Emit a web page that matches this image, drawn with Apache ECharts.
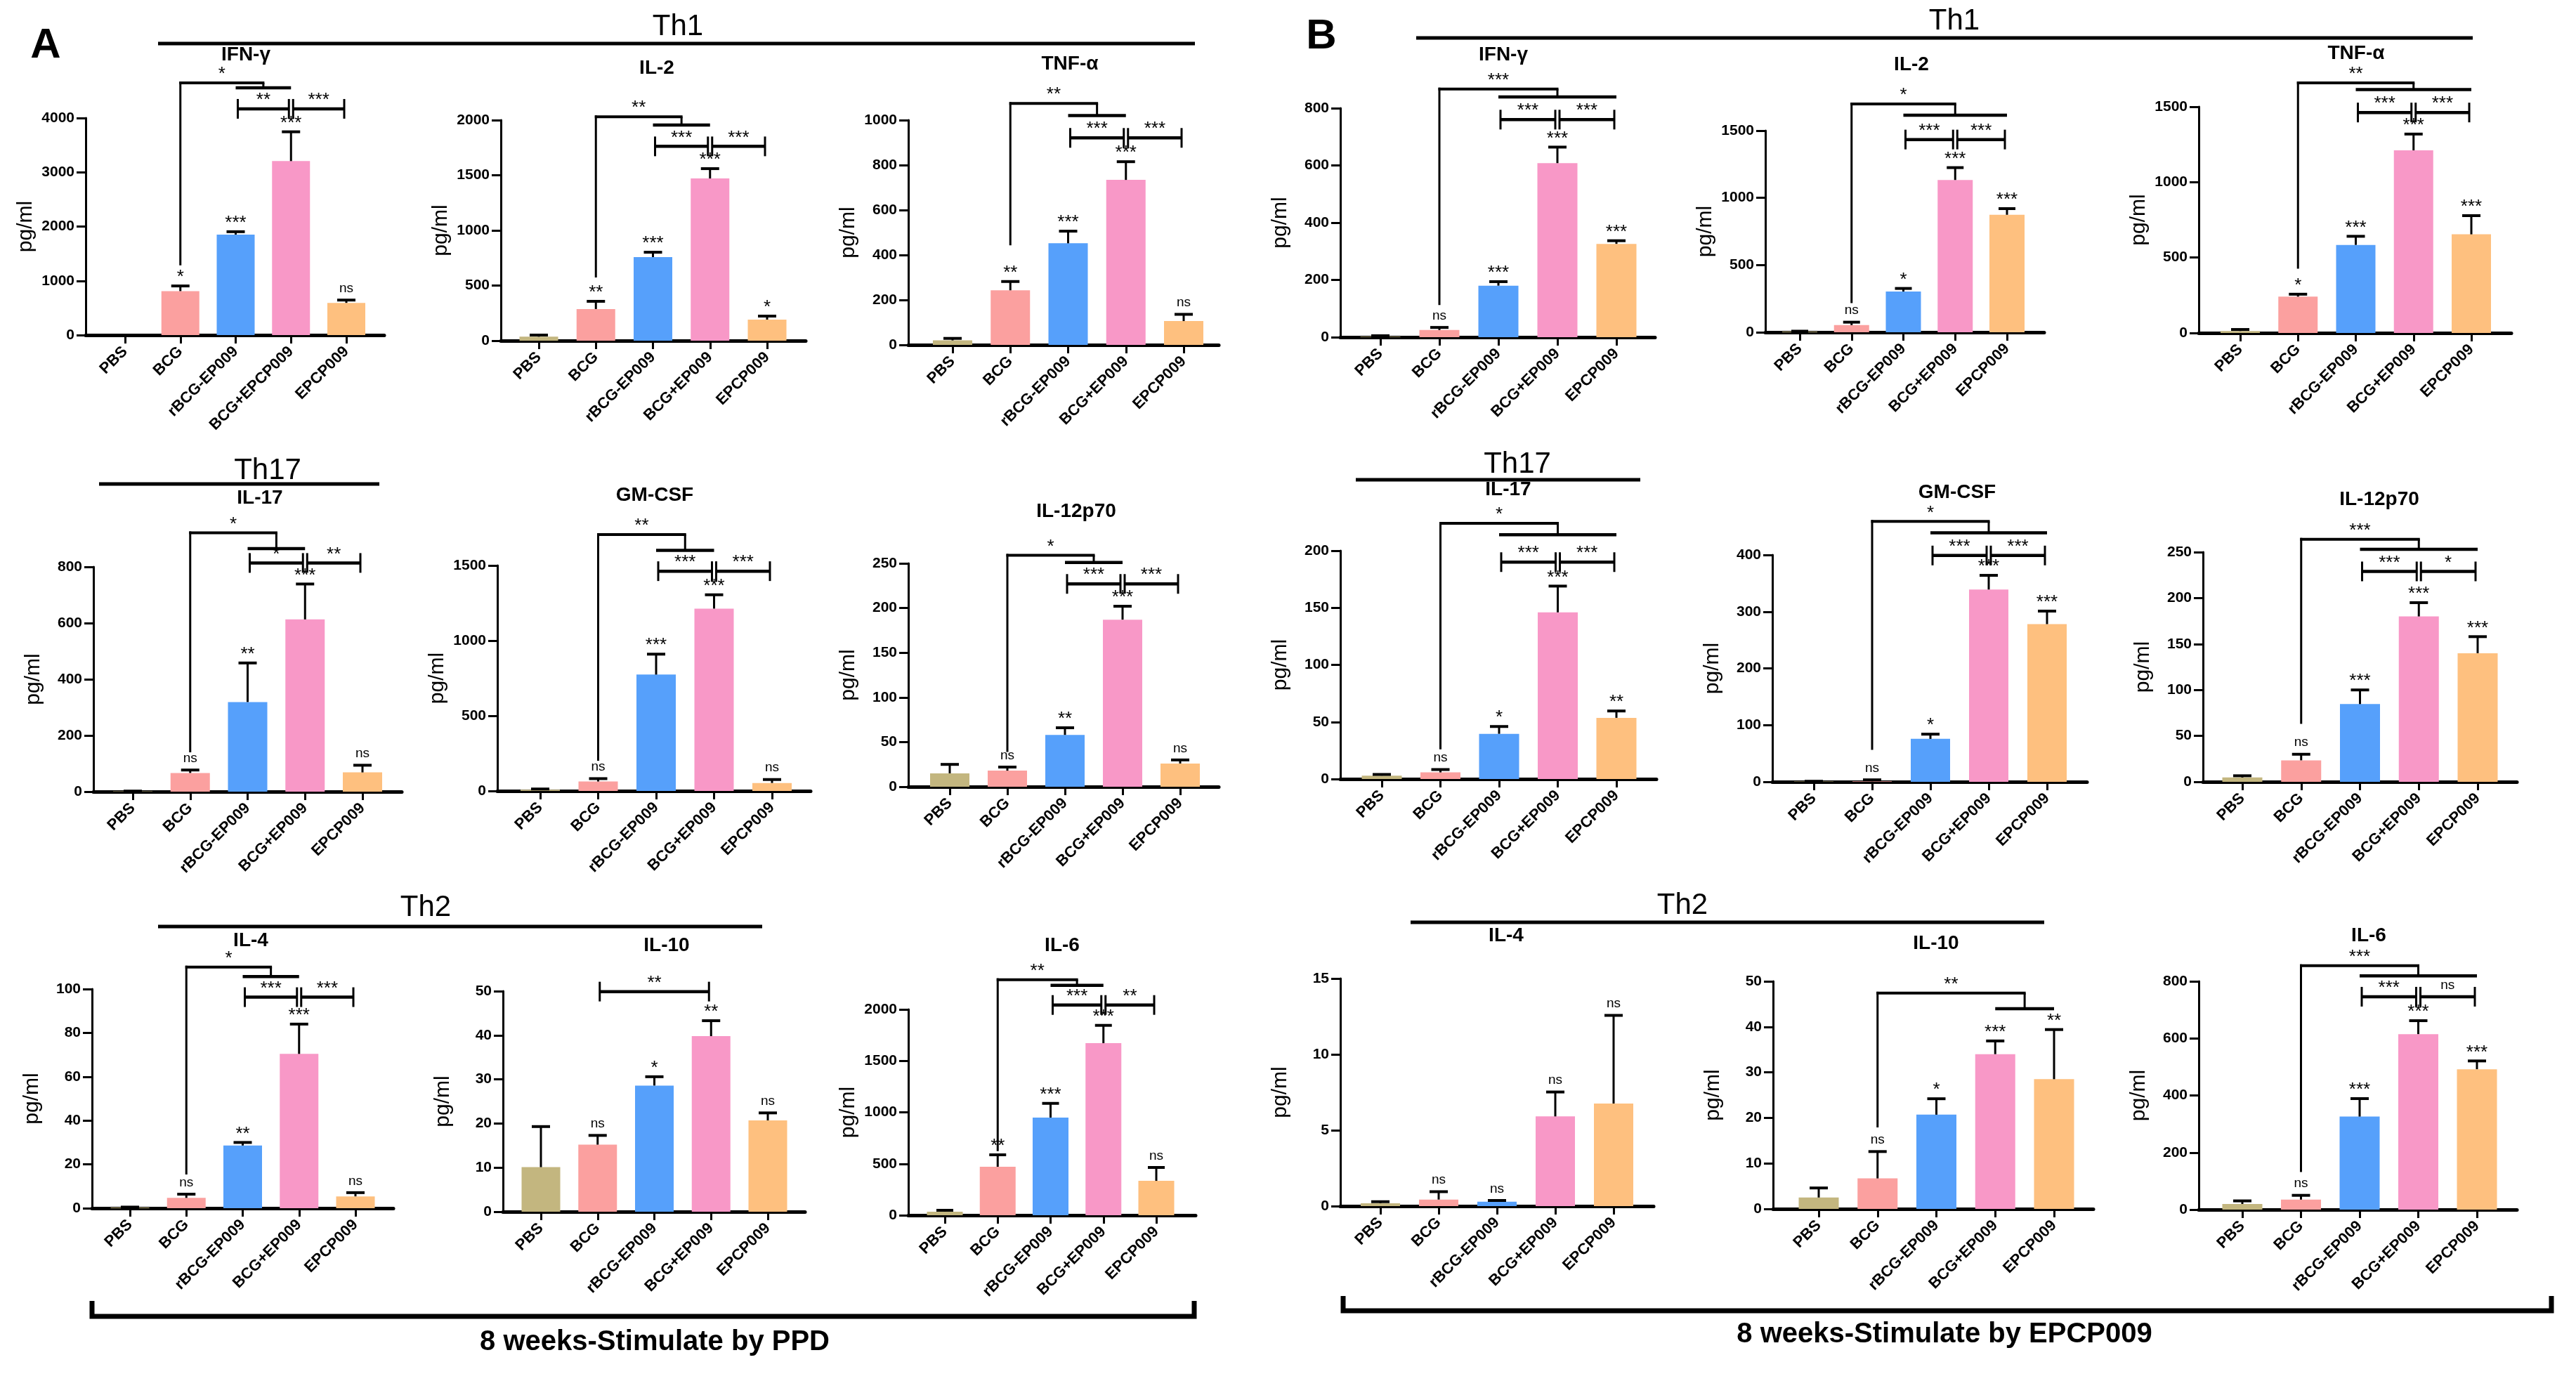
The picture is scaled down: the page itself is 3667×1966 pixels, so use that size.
<!DOCTYPE html>
<html>
<head>
<meta charset="utf-8">
<script src="https://cdn.jsdelivr.net/npm/echarts@6/dist/echarts.min.js"></script>
<style>
  html, body { margin: 0; padding: 0; background: #fff; }
  #main { width: 3667px; height: 1966px; }
</style>
</head>
<body>
<div id="main"></div>
<script>
const FONT = '"Liberation Sans", Arial, sans-serif';

// categories
const cats = ['PBS', 'BCG', 'rBCG-EP009', 'BCG+EP009', 'EPCP009'];
const catsIfnA = ['PBS', 'BCG', 'rBCG-EP009', 'BCG+EPCP009', 'EPCP009'];
const barColors = ['#C3B67F', '#FBA09F', '#56A0FB', '#F898C7', '#FEC07F'];

// ---- panel A : stimulated by PPD ----
const ifnA = [0, 810, 1852, 3206, 593];
const ifnAErr = [0, 905, 1905, 3746, 645];
const ifnASig = ['', '*', '***', '***', 'ns'];
const ifnABr = [['big', 1, 2, 3, 1286, 4646, 4556, '*'], ['pair', 2, 3, 4169, '**'], ['pair', 3, 4, 4169, '***']];

const il2A = [36, 287, 758, 1471, 191];
const il2AErr = [51, 357, 802, 1560, 223];
const il2ASig = ['', '**', '***', '***', '*'];
const il2ABr = [['big', 1, 2, 3, 573, 2030, 1955, '**'], ['pair', 2, 3, 1762, '***'], ['pair', 3, 4, 1762, '***']];

const tnfA = [20, 243, 452, 734, 106];
const tnfAErr = [29, 282, 506, 815, 136];
const tnfASig = ['', '**', '***', '***', 'ns'];
const tnfABr = [['big', 1, 2, 3, 443, 1074, 1020, '**'], ['pair', 2, 3, 921, '***'], ['pair', 3, 4, 921, '***']];

const il17A = [1, 66.5, 319, 613, 68.5];
const il17AErr = [2, 77, 458, 739, 94];
const il17ASig = ['', 'ns', '**', '***', 'ns'];
const il17ABr = [['big', 1, 2, 3, 140, 921, 865, '*'], ['pair', 2, 3, 814, '*'], ['pair', 3, 4, 814, '**']];

const gmA = [8, 63, 774, 1213, 53];
const gmAErr = [13, 82, 910, 1305, 76];
const gmASig = ['', 'ns', '***', '***', 'ns'];
const gmABr = [['big', 1, 2, 3, 201, 1706, 1601, '**'], ['pair', 2, 3, 1462, '***'], ['pair', 3, 4, 1462, '***']];

const il12A = [15, 18, 58, 187, 26];
const il12AErr = [25, 22, 66, 202, 30];
const il12ASig = ['', 'ns', '**', '***', 'ns'];
const il12ABr = [['big', 1, 2, 3, 39, 259, 251, '*'], ['pair', 2, 3, 227, '***'], ['pair', 3, 4, 227, '***']];

const il4A = [0.3, 4.7, 28.6, 70.4, 5.4];
const il4AErr = [0.5, 6.4, 30, 84, 7.1];
const il4ASig = ['', 'ns', '**', '***', 'ns'];
const il4ABr = [['big', 1, 2, 3, 15.4, 110, 105.7, '*'], ['pair', 2, 3, 96.3, '***'], ['pair', 3, 4, 96.3, '***']];

const il10A = [10.1, 15.2, 28.6, 39.8, 20.7];
const il10AErr = [19.3, 17.3, 30.6, 43.3, 22.4];
const il10ASig = ['', 'ns', '*', '**', 'ns'];
const il10ABr = [['pair', 1, 3, 49.9, '**']];

const il6A = [34, 471, 949, 1672, 334];
const il6AErr = [48, 587, 1087, 1845, 464];
const il6ASig = ['', '**', '***', '***', 'ns'];
const il6ABr = [['big', 1, 2, 3, 623, 2289, 2234, '**'], ['pair', 2, 3, 2043, '***'], ['pair', 3, 4, 2043, '**']];

// ---- panel B : stimulated by EPCP009 ----
const ifnB = [2, 25, 180, 608, 326];
const ifnBErr = [5, 34, 194, 664, 337];
const ifnBSig = ['', 'ns', '***', '***', '***'];
const ifnBBr = [['big', 1, 2, 4, 112, 867, 839, '***'], ['pair', 2, 3, 760, '***'], ['pair', 3, 4, 760, '***']];

const il2B = [5, 53, 303, 1133, 874];
const il2BErr = [8, 75, 326, 1225, 920];
const il2BSig = ['', 'ns', '*', '***', '***'];
const il2BBr = [['big', 1, 2, 4, 217, 1698, 1615, '*'], ['pair', 2, 3, 1434, '***'], ['pair', 3, 4, 1434, '***']];

const tnfB = [13, 241, 584, 1211, 654];
const tnfBErr = [23, 257, 641, 1319, 778];
const tnfBSig = ['', '*', '***', '***', '***'];
const tnfBBr = [['big', 1, 2, 4, 426, 1658, 1614, '**'], ['pair', 2, 3, 1462, '***'], ['pair', 3, 4, 1462, '***']];

const il17B = [3, 5.8, 39.6, 146, 53.6];
const il17BErr = [4, 8.3, 46, 169, 59.6];
const il17BSig = ['', 'ns', '*', '***', '**'];
const il17BBr = [['big', 1, 2, 4, 26, 224, 214, '*'], ['pair', 2, 3, 190, '***'], ['pair', 3, 4, 190, '***']];

const gmB = [0.5, 1, 75.7, 339, 278];
const gmBErr = [1, 3.5, 84, 364, 301];
const gmBSig = ['', 'ns', '*', '***', '***'];
const gmBBr = [['big', 1, 2, 4, 56.5, 459, 439, '*'], ['pair', 2, 3, 399, '***'], ['pair', 3, 4, 399, '***']];

const il12B = [4.7, 23.4, 84.6, 180, 140];
const il12BErr = [6.6, 30, 100, 195, 158];
const il12BSig = ['', 'ns', '***', '***', '***'];
const il12BBr = [['big', 1, 2, 4, 63, 264, 253, '***'], ['pair', 2, 3, 229, '***'], ['pair', 3, 4, 229, '*']];

const il4B = [0.19, 0.43, 0.29, 5.91, 6.76];
const il4BErr = [0.29, 0.95, 0.37, 7.52, 12.57];
const il4BSig = ['', 'ns', 'ns', 'ns', 'ns'];
const il4BBr = [];

const il10B = [2.5, 6.7, 20.7, 34.0, 28.5];
const il10BErr = [4.6, 12.6, 24.2, 36.9, 39.4];
const il10BSig = ['', 'ns', '*', '***', '**'];
const il10BBr = [['big', 1, 3, 4, 17.9, 47.4, 44.0, '**']];

const il6B = [19.7, 35, 326, 615, 492];
const il6BErr = [30.6, 50, 389, 662, 521];
const il6BSig = ['', 'ns', '***', '***', '***'];
const il6BBr = [['big', 1, 2, 4, 132, 855, 819, '***'], ['pair', 2, 3, 746, '***'], ['pair', 3, 4, 746, 'ns']];

// layout: [yAxisX, firstBarX, lastBarX, xAxisEnd, topTickY, baselineY], title centre
const charts = [
  { name: 'IFN-γ', cats: catsIfnA, v: ifnA, e: ifnAErr, s: ifnASig, br: ifnABr, max: 4000, step: 1000, box: [122, 178, 493, 547, 168, 477], head: [350, 78] },
  { name: 'IL-2', cats: cats, v: il2A, e: il2AErr, s: il2ASig, br: il2ABr, max: 2000, step: 500, box: [713, 767, 1092, 1147, 171, 485], head: [935, 97] },
  { name: 'TNF-α', cats: cats, v: tnfA, e: tnfAErr, s: tnfASig, br: tnfABr, max: 1000, step: 200, box: [1293, 1356, 1685, 1735, 171, 491], head: [1523, 91] },
  { name: 'IFN-γ', cats: cats, v: ifnB, e: ifnBErr, s: ifnBSig, br: ifnBBr, max: 800, step: 200, box: [1908, 1965, 2301, 2356, 154, 480], head: [2140, 78] },
  { name: 'IL-2', cats: cats, v: il2B, e: il2BErr, s: il2BSig, br: il2BBr, max: 1500, step: 500, box: [2513, 2562, 2857, 2910, 186, 473], head: [2721, 92] },
  { name: 'TNF-α', cats: cats, v: tnfB, e: tnfBErr, s: tnfBSig, br: tnfBBr, max: 1500, step: 500, box: [3130, 3189, 3518, 3575, 152, 474], head: [3354, 76] },
  { name: 'IL-17', cats: cats, v: il17A, e: il17AErr, s: il17ASig, br: il17ABr, max: 800, step: 200, box: [133, 189, 516, 572, 807, 1127], head: [370, 709] },
  { name: 'GM-CSF', cats: cats, v: gmA, e: gmAErr, s: gmASig, br: gmABr, max: 1500, step: 500, box: [708, 769, 1099, 1154, 805, 1126], head: [932, 705] },
  { name: 'IL-12p70', cats: cats, v: il12A, e: il12AErr, s: il12ASig, br: il12ABr, max: 250, step: 50, box: [1293, 1352, 1680, 1735, 802, 1120], head: [1532, 728] },
  { name: 'IL-17', cats: cats, v: il17B, e: il17BErr, s: il17BSig, br: il17BBr, max: 200, step: 50, box: [1908, 1967, 2301, 2358, 784, 1109], head: [2147, 697] },
  { name: 'GM-CSF', cats: cats, v: gmB, e: gmBErr, s: gmBSig, br: gmBBr, max: 400, step: 100, box: [2523, 2582, 2914, 2971, 790, 1113], head: [2786, 701] },
  { name: 'IL-12p70', cats: cats, v: il12B, e: il12BErr, s: il12BSig, br: il12BBr, max: 250, step: 50, box: [3136, 3192, 3527, 3583, 786, 1113], head: [3387, 711] },
  { name: 'IL-4', cats: cats, v: il4A, e: il4AErr, s: il4ASig, br: il4ABr, max: 100, step: 20, box: [131, 185, 506, 560, 1408, 1720], head: [357, 1339] },
  { name: 'IL-10', cats: cats, v: il10A, e: il10AErr, s: il10ASig, br: il10ABr, max: 50, step: 10, box: [716, 770, 1093, 1146, 1411, 1725], head: [949, 1346] },
  { name: 'IL-6', cats: cats, v: il6A, e: il6AErr, s: il6ASig, br: il6ABr, max: 2000, step: 500, box: [1293, 1345, 1646, 1702, 1437, 1730], head: [1512, 1346] },
  { name: 'IL-4', cats: cats, v: il4B, e: il4BErr, s: il4BSig, br: il4BBr, max: 15, step: 5, box: [1908, 1965, 2297, 2354, 1393, 1717], head: [2144, 1332] },
  { name: 'IL-10', cats: cats, v: il10B, e: il10BErr, s: il10BSig, br: il10BBr, max: 50, step: 10, box: [2524, 2589, 2924, 2980, 1397, 1721], head: [2756, 1343] },
  { name: 'IL-6', cats: cats, v: il6B, e: il6BErr, s: il6BSig, br: il6BBr, max: 800, step: 200, box: [3130, 3192, 3526, 3583, 1397, 1722], head: [3372, 1332] }
];

function txt(x, y, t, font, va) {
  return {
    type: 'text', x: x, y: y, silent: true,
    style: { text: t, font: font, fill: '#000', align: 'center', textAlign: 'center', verticalAlign: va || 'middle', textVerticalAlign: va || 'middle' }
  };
}
function ln(x1, y1, x2, y2, w) {
  return { type: 'line', silent: true, shape: { x1: x1, y1: y1, x2: x2, y2: y2 }, style: { stroke: '#000', lineWidth: w } };
}
// significance mark sitting above y
function sig(x, y, t) {
  const star = t !== 'ns';
  return txt(x, star ? y + 3 : y - 5, t, (star ? 26 : 19) + 'px ' + FONT, 'bottom');
}

const grids = [], xAxes = [], yAxes = [], series = [], graphics = [];

charts.forEach(function (c, k) {
  const [ax, c0, c4, ex, ty, by] = c.box;
  const sp = (c4 - c0) / 4;
  grids.push({ left: ax, top: ty, width: ex - ax, height: by - ty, containLabel: false, outerBoundsMode: 'none' });
  xAxes.push({
    gridIndex: k, type: 'value',
    min: -(c0 - ax) / sp, max: 4 + (ex - c4) / sp,
    splitLine: { show: false },
    axisLine: { onZero: false, lineStyle: { color: '#000', width: 5 } },
    axisTick: { customValues: [0, 1, 2, 3, 4], length: 12, lineStyle: { color: '#000', width: 3 } },
    axisLabel: {
      customValues: [0, 1, 2, 3, 4], rotate: 45, margin: 20,
      fontSize: 22, fontWeight: 'bold', fontFamily: FONT, color: '#000',
      formatter: function (val) { return c.cats[Math.round(val)]; }
    }
  });
  yAxes.push({
    gridIndex: k, type: 'value', min: 0, max: c.max, interval: c.step,
    name: 'pg/ml', nameLocation: 'middle', nameGap: 70,
    nameTextStyle: { fontSize: 30, fontFamily: FONT, color: '#000' },
    splitLine: { show: false },
    axisLine: { show: true, onZero: false, lineStyle: { color: '#000', width: 3 } },
    axisTick: { show: true, length: 13, lineStyle: { color: '#000', width: 3 } },
    axisLabel: { margin: 16, fontSize: 21, fontWeight: 'bold', fontFamily: FONT, color: '#000', formatter: function (val) { return String(val); } }
  });

  series.push({
    type: 'bar', xAxisIndex: k, yAxisIndex: k,
    barWidth: Math.round(sp * 0.68),
    data: c.v.map(function (val, i) { return [i, val]; }),
    itemStyle: { color: function (p) { return barColors[p.dataIndex]; } },
    silent: true
  });

  // error bars + marks above bars
  const capHalf = Math.round(sp * 0.16);
  series.push({
    type: 'custom', xAxisIndex: k, yAxisIndex: k, clip: false, silent: true, z: 4,
    data: c.v.map(function (val, i) { return [i, val, c.e[i]]; }),
    encode: { x: 0, y: [1, 2] },
    renderItem: function (params, api) {
      const i = api.value(0);
      const lo = api.coord([i, api.value(1)]);
      const hi = api.coord([i, api.value(2)]);
      const kids = [];
      if (api.value(2) > 0) {
        kids.push(ln(lo[0], lo[1], hi[0], hi[1], 3));
        kids.push(ln(hi[0] - capHalf, hi[1], hi[0] + capHalf, hi[1], 4));
      }
      const t = c.s[i];
      if (t) kids.push(sig(hi[0], hi[1] - 2, t));
      return { type: 'group', children: kids };
    }
  });

  // comparison brackets
  if (c.br.length) {
    series.push({
      type: 'custom', xAxisIndex: k, yAxisIndex: k, clip: false, silent: true, z: 5,
      data: c.br.map(function (b) { return [b[1], b[0] === 'big' ? b[5] : b[3]]; }),
      renderItem: function (params, api) {
        const b = c.br[params.dataIndex];
        const kids = [];
        if (b[0] === 'big') {
          const mid = (b[2] + b[3]) / 2;
          const p0 = api.coord([b[1], b[4]]);
          const p1 = api.coord([b[1], b[5]]);
          const p2 = api.coord([mid, b[5]]);
          const p3 = api.coord([mid, b[6]]);
          const q1 = api.coord([b[2], b[6]]);
          const q2 = api.coord([b[3], b[6]]);
          kids.push(ln(p0[0], p0[1], p1[0], p1[1] - 2, 3));
          kids.push(ln(p1[0] - 1.5, p1[1], p2[0] + 1.5, p2[1], 4));
          kids.push(ln(p2[0], p2[1], p3[0], p3[1], 3));
          kids.push(ln(q1[0], q1[1], q2[0], q2[1], 4.5));
          kids.push(sig((p1[0] + p2[0]) / 2, p1[1] - 2, b[7]));
        } else {
          const a = api.coord([b[1], b[3]]);
          const z = api.coord([b[2], b[3]]);
          const x1 = a[0] + 3, x2 = z[0] - 3;
          kids.push(ln(x1, a[1], x2, a[1], 4.5));
          kids.push(ln(x1, a[1] - 14, x1, a[1] + 14, 3));
          kids.push(ln(x2, a[1] - 14, x2, a[1] + 14, 3));
          kids.push(sig((x1 + x2) / 2, a[1] - 2, b[4]));
        }
        return { type: 'group', children: kids };
      }
    });
  }

  graphics.push(txt(c.head[0], c.head[1], c.name, 'bold 28px ' + FONT));
});

// panel letters, group headers and bottom brackets
graphics.push(txt(65, 65, 'A', 'bold 60px ' + FONT));
graphics.push(txt(1881, 52, 'B', 'bold 60px ' + FONT));
[
  ['Th1', 965, 38, 225, 1701, 62],
  ['Th1', 2782, 30, 2016, 3520, 54],
  ['Th17', 381, 670, 141, 540, 689],
  ['Th17', 2160, 661, 1930, 2335, 683],
  ['Th2', 606, 1292, 225, 1085, 1319],
  ['Th2', 2395, 1289, 2008, 2910, 1313]
].forEach(function (h) {
  graphics.push(txt(h[1], h[2], h[0], '42px ' + FONT));
  graphics.push(ln(h[3], h[5], h[4], h[5], 5));
});
graphics.push({ type: 'polyline', silent: true, shape: { points: [[131, 1852], [131, 1874], [1700, 1874], [1700, 1852]] }, style: { stroke: '#000', lineWidth: 7, fill: null } });
graphics.push({ type: 'polyline', silent: true, shape: { points: [[1912, 1845], [1912, 1866], [3632, 1866], [3632, 1845]] }, style: { stroke: '#000', lineWidth: 7, fill: null } });
graphics.push(txt(932, 1911, '8 weeks-Stimulate by PPD', 'bold 40px ' + FONT));
graphics.push(txt(2768, 1900, '8 weeks-Stimulate by EPCP009', 'bold 40px ' + FONT));

const myChart = echarts.init(document.getElementById('main'));
myChart.setOption({
  backgroundColor: '#fff',
  animation: false,
  grid: grids,
  xAxis: xAxes,
  yAxis: yAxes,
  series: series,
  graphic: { elements: graphics }
});
</script>
</body>
</html>
